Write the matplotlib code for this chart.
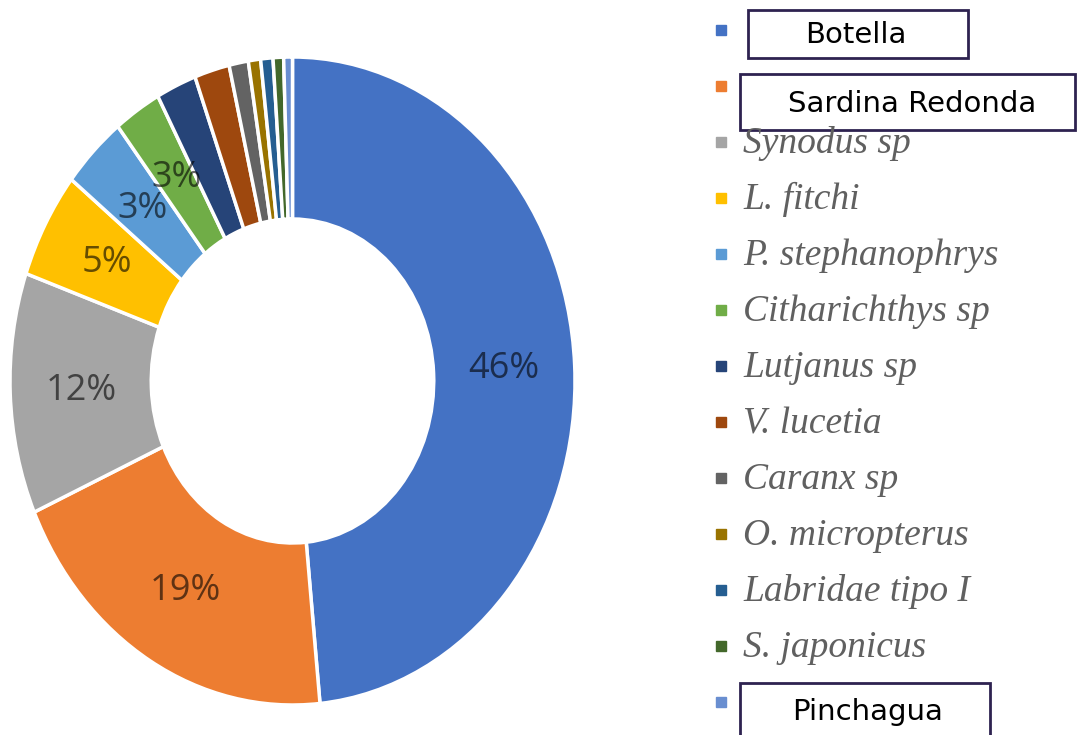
import numpy as np
import matplotlib.pyplot as plt
from matplotlib.patches import Rectangle

species = ['Botella', 'Sardina Redonda', 'Synodus sp', 'L. fitchi', 'P. stephanophrys',
           'Citharichthys sp', 'Lutjanus sp', 'V. lucetia', 'Caranx sp', 'O. micropterus',
           'Labridae tipo I', 'S. japonicus', 'Pinchagua']
share = [48.4, 19.9, 12.0, 5.3, 3.7, 2.7, 2.3, 2.0, 1.1, 0.7, 0.7, 0.6, 0.5]
# data labels exactly as printed on the chart
pct_labels = ['46%', '19%', '12%', '5%', '3%', '3%', '', '', '', '', '', '', '']
boxed = ['Botella', 'Sardina Redonda', 'Pinchagua']

colors = ['#4472C4', '#ED7D31', '#A5A5A5', '#FFC000', '#5B9BD5', '#70AD47', '#264478',
          '#9E480E', '#636363', '#997300', '#255E91', '#43682B', '#698ED0']

W, H = 1083, 735
fig = plt.figure(figsize=(W/100, H/100), dpi=100)

def fx(px):
    return px / W

def fy(py):
    return 1 - py / H

# donut (slightly squashed horizontally, like the reference)
ax = fig.add_axes([fx(10), fy(705), (575-10)/W, (705-57)/H])
wedges, _ = ax.pie(share, colors=colors, startangle=90, counterclock=False,
                   radius=1, wedgeprops=dict(width=0.5, edgecolor='white', linewidth=2.5))
ax.set_aspect('auto')
ax.set_xlim(-1, 1)
ax.set_ylim(-1, 1)

for w, lab in zip(wedges, pct_labels):
    if not lab:
        continue
    ang = np.deg2rad((w.theta1 + w.theta2) / 2)
    ax.text(0.75*np.cos(ang), 0.75*np.sin(ang), lab, ha='center', va='center',
            fontsize=26, family='Open Sans', color='black', alpha=0.6)

# legend drawn by hand
for i, (name, c) in enumerate(zip(species, colors)):
    yc = 30 + 56*i
    fig.patches.append(Rectangle((fx(716), fy(yc+5)), 10/W, 10/H,
                                 transform=fig.transFigure, color=c))
    if name in boxed:
        continue
    fig.text(fx(743), fy(yc+11), name, fontsize=27, family='Liberation Serif',
             style='italic', color='#606060', va='baseline')

# boxed names (left, top, right, bottom, text x, text y) in pixels
box_pos = {'Botella': (748, 10, 968, 58, 856, 35),
           'Sardina Redonda': (740, 74, 1075, 130, 912, 104),
           'Pinchagua': (740, 683, 990, 745, 868, 712)}
for name, (l, t, r, b, tx, ty) in box_pos.items():
    fig.patches.append(Rectangle((fx(l), fy(b)), (r-l)/W, (b-t)/H, transform=fig.transFigure,
                                 facecolor='white', edgecolor='#2E2250', linewidth=2))
    fig.text(fx(tx), fy(ty), name, fontsize=21, family='DejaVu Sans', color='black',
             ha='center', va='center')

fig.savefig('out.png', dpi=100)
